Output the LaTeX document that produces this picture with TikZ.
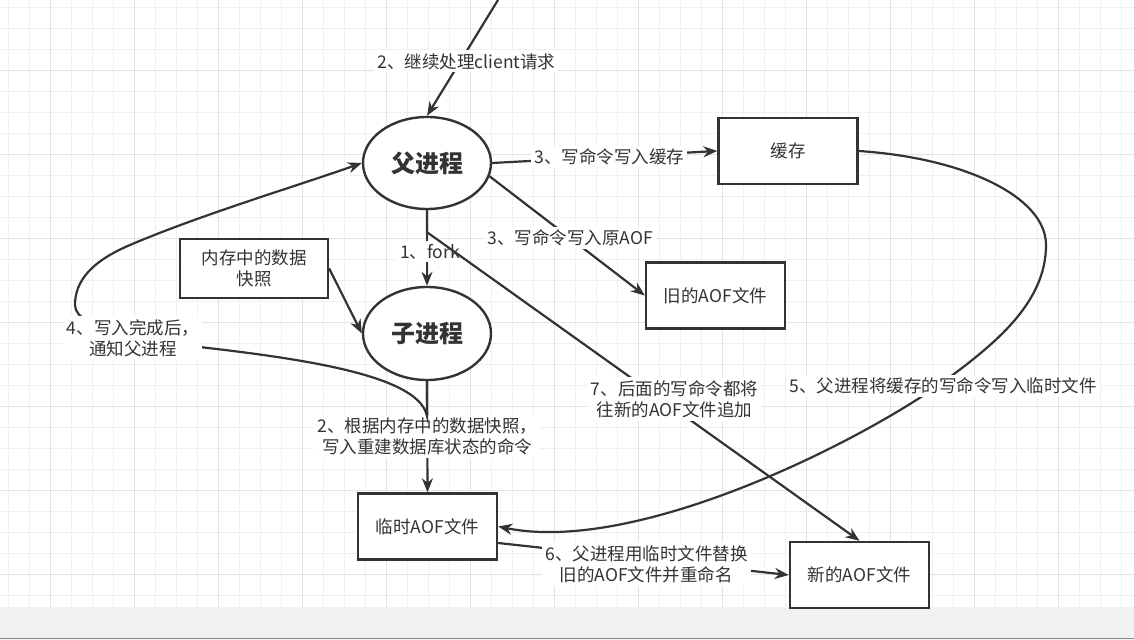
\documentclass[tikz,border=0pt]{standalone}
\usepackage{fontspec}
\setmainfont{Noto Sans CJK SC}
\usetikzlibrary{positioning,shapes.geometric,arrows.meta}
\definecolor{linegray}{HTML}{333333}
\definecolor{gridlight}{HTML}{F0F0F0}
\definecolor{griddark}{HTML}{E3E3E3}
\definecolor{barbg}{HTML}{F1F1F1}
\definecolor{barline}{HTML}{8C8C8C}
\tikzset{
  proc/.style={ellipse, draw=linegray, line width=1.2pt, fill=white,
    minimum width=64pt, minimum height=46pt, inner sep=0pt,
    font=\fontsize{12pt}{14pt}\selectfont\bfseries, text=linegray},
  filebox/.style={rectangle, draw=linegray, line width=1.2pt, fill=white,
    minimum width=69.5pt, minimum height=33pt, inner sep=0pt, align=center,
    font=\fontsize{8.75pt}{10.5pt}\selectfont, text=linegray},
  lbl/.style={fill=white, inner sep=1.5pt, align=center,
    font=\fontsize{8.75pt}{10.5pt}\selectfont, text=linegray},
  flow/.style={draw=linegray, line width=1.1pt, -{Stealth[length=7pt,width=5.5pt]}},
}

\begin{document}
\begin{tikzpicture}[x=0.5pt,y=-0.5pt]
\useasboundingbox (0,0) rectangle (1134,640);
\fill[white] (0,0) rectangle (1134,640);
% grid
\foreach \i in {0,...,53}
  \draw[gridlight, line width=0.75pt] ({8.5+21*\i},0) -- ({8.5+21*\i},607);
\foreach \i in {0,...,28}
  \draw[gridlight, line width=0.75pt] (0,{7.5+21*\i}) -- (1134,{7.5+21*\i});
\foreach \i in {2,6,...,50}
  \draw[griddark, line width=0.75pt] ({8.5+21*\i},0) -- ({8.5+21*\i},607);
\foreach \i in {3,7,...,27}
  \draw[griddark, line width=0.75pt] (0,{7.5+21*\i}) -- (1134,{7.5+21*\i});
\fill[barbg] (0,607) rectangle (1134,640);
\draw[barline, line width=0.75pt] (0,638.5) -- (1134,638.5);

% nodes
\node[proc] (parent) at (427,163) {父进程};
\node[proc, minimum height=46.5pt] (child) at (427,333.5) {子进程};
\node[filebox] (cache) at (788,151) {缓存};
\node[filebox] (oldaof) at (715.5,295.5) {旧的AOF文件};
\node[filebox, minimum width=74pt, minimum height=29.5pt] (snapshot) at (254,268.5) {内存中的数据\\快照};
\node[filebox] (tmpaof) at (427.5,526.5) {临时AOF文件};
\node[filebox] (newaof) at (859.5,575) {新的AOF文件};
\coordinate (client) at (498,0);

% connectors
\draw[flow] (client) -- node[lbl, pos=0.53, xshift=3pt] {2、继续处理client请求} (parent.north);
\draw[flow] (parent.east) -- node[lbl, pos=0.52] {3、写命令写入缓存} (cache.west);
\draw[flow] (parent.-12) -- node[lbl, pos=0.52] {3、写命令写入原AOF} (oldaof.west);
\draw[flow] (parent.south) -- node[lbl, pos=0.55, xshift=1.5pt] {1、fork} (child.north);
\draw[flow] (parent.south) -- ++(0,22) -- node[lbl, pos=0.54, xshift=7pt] {7、后面的写命令都将\\往新的AOF文件追加} (newaof.north);
\draw[flow] (child.south) -- node[lbl] {2、根据内存中的数据快照，\\写入重建数据库状态的命令} (tmpaof.north);
\draw[flow] (snapshot.east) -- (child.west);
\draw[flow] (child.south) -- ++(0,35) .. controls (420,380) and (330,362) .. (208,348)
  .. controls (150,341) and (75,330) .. (75,305)
  .. controls (75,282) and (90,262) .. (130,245)
  .. controls (200,215) and (300,185) .. (parent.west);
\node[lbl] (notify) at (133,338) {4、写入完成后，\\通知父进程};
\draw[flow] (cache.east) .. controls (965,158) and (1046,197) .. (1046,245)
  .. controls (1046,300) and (1000,340) .. (950,377)
  .. controls (870,437) and (640,555) .. (tmpaof.east);
\node[lbl] (copyback) at (943,386) {5、父进程将缓存的写命令写入临时文件};
\draw[flow] ([yshift=-8.25pt]tmpaof.east) -- node[lbl, pos=0.51, yshift=-2.3pt] {6、父进程用临时文件替换\\旧的AOF文件并重命名} (newaof.west);
\end{tikzpicture}
\end{document}
